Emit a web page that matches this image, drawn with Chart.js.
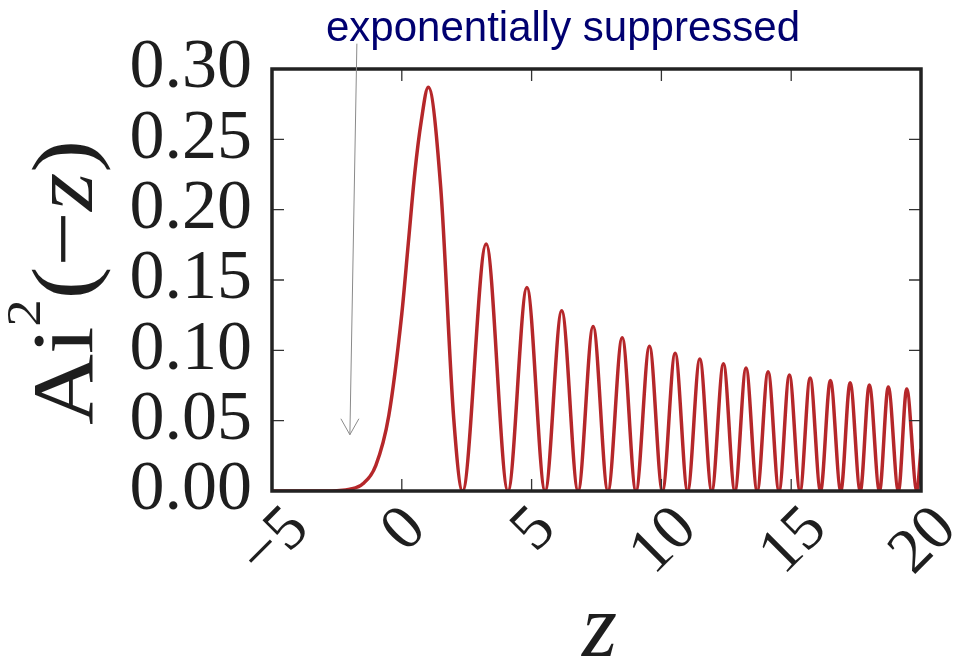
<!DOCTYPE html>
<html>
<head>
<meta charset="utf-8">
<script src="https://cdn.jsdelivr.net/npm/chart.js@4.4.1/dist/chart.umd.min.js"></script>
<style>
  html, body { margin: 0; padding: 0; background: #fff; }
  #wrap { width: 957px; height: 662px; }
</style>
</head>
<body>
<div id="wrap"><canvas id="chart"></canvas></div>
<script>
// values: z positions of tail points, peaks and zeros
const zValues = [-5, -4, -3, -2.5, -2, -1.5, -1, -0.5, 0, 0.25, 0.5, 0.75, 1.02, 1.5, 2.0,
  2.34, 3.25, 4.09, 4.82, 5.52, 6.16, 6.79, 7.37, 7.94, 8.49, 9.02, 9.54,
  10.04, 10.53, 11.01, 11.48, 11.94, 12.39, 12.83, 13.26, 13.69, 14.11, 14.53, 14.93,
  15.34, 15.73, 16.13, 16.51, 16.91, 17.27, 17.66, 18.01, 18.40, 18.74, 19.13, 19.45,
  19.84, 20]
const aiSquared = [0, 0, 0.00004, 0.00025, 0.0012, 0.0051, 0.0183, 0.0537, 0.126, 0.176, 0.226, 0.263, 0.287, 0.2155, 0.0517,
  0, 0.1756, 0, 0.1447, 0, 0.1281, 0, 0.1170, 0, 0.1090, 0, 0.1029,
  0, 0.0979, 0, 0.0938, 0, 0.0904, 0, 0.0874, 0, 0.0848, 0, 0.0825,
  0, 0.0804, 0, 0.0786, 0, 0.0769, 0, 0.0754, 0, 0.0739, 0, 0.0726,
  0, 0.03]
const xTicks = [-5, 0, 5, 10, 15, 20]
const yTicks = [0, 0.05, 0.10, 0.15, 0.20, 0.25, 0.30]
const noteText = 'exponentially suppressed'
const arrowTail = {x: -1.73, y: 0.318}
const arrowTip = {x: -2.0, y: 0.040}

const serif = '"Liberation Serif", "DejaVu Serif", serif'
const ink = '#1e1e1e'

const fmtX = v => (v < 0 ? '\u2212' + Math.abs(v) : String(v))

const decorations = {
  id: 'decorations',
  afterDraw(chart) {
    const {ctx, chartArea: a, scales: {x, y}} = chart
    ctx.save()

    // inward tick marks on all four sides
    ctx.strokeStyle = '#333'
    ctx.lineWidth = 1.3
    ctx.beginPath()
    xTicks.forEach(v => {
      const px = x.getPixelForValue(v)
      ctx.moveTo(px, a.bottom); ctx.lineTo(px, a.bottom - 12)
      ctx.moveTo(px, a.top); ctx.lineTo(px, a.top + 12)
    })
    yTicks.forEach(v => {
      const py = y.getPixelForValue(v)
      ctx.moveTo(a.left, py); ctx.lineTo(a.left + 12, py)
      ctx.moveTo(a.right, py); ctx.lineTo(a.right - 12, py)
    })
    ctx.stroke()

    // frame
    ctx.strokeStyle = '#222'
    ctx.lineWidth = 3.5
    ctx.strokeRect(a.left, a.top, a.right - a.left, a.bottom - a.top)

    // rotated x tick labels, centred on the tick
    ctx.fillStyle = ink
    const fx = 64
    ctx.font = fx + 'px ' + serif
    ctx.textAlign = 'center'
    ctx.textBaseline = 'alphabetic'
    const h = 0.66 * fx
    xTicks.forEach(v => {
      const label = fmtX(v)
      const w = ctx.measureText(label).width
      const cx = x.getPixelForValue(v)
      const cy = a.bottom + 10 + (w + h) / (2 * Math.SQRT2)
      ctx.save()
      ctx.translate(cx, cy)
      ctx.rotate(-Math.PI / 4)
      ctx.fillText(label, 0, h / 2)
      ctx.restore()
    })

    // x axis title
    ctx.font = 'italic 90px ' + serif
    ctx.fillText('z', (a.left + a.right) / 2 + 3, 656)

    // y axis title Ai²(−z), drawn in pieces
    const parts = [
      {t: 'Ai', f: '86px ' + serif, dy: 0},
      {t: '2', f: '48px ' + serif, dy: -52},
      {t: '(\u2212', f: '86px ' + serif, dy: 0},
      {t: 'z', f: 'italic 86px ' + serif, dy: 0},
      {t: ')', f: '86px ' + serif, dy: 0}
    ]
    let total = 0
    parts.forEach(p => { ctx.font = p.f; p.w = ctx.measureText(p.t).width; total += p.w })
    const span = 285
    ctx.save()
    ctx.translate(92, 425)
    ctx.rotate(-Math.PI / 2)
    ctx.scale(span / total, 1)
    ctx.textAlign = 'left'
    let pos = 0
    parts.forEach(p => {
      ctx.font = p.f
      ctx.fillText(p.t, pos, p.dy)
      pos += p.w
    })
    ctx.restore()

    // annotation arrow and text
    const tx = x.getPixelForValue(arrowTail.x), ty = y.getPixelForValue(arrowTail.y)
    const hx = x.getPixelForValue(arrowTip.x), hy = y.getPixelForValue(arrowTip.y)
    ctx.strokeStyle = '#8a8a8a'
    ctx.lineWidth = 1
    ctx.beginPath()
    ctx.moveTo(tx, ty); ctx.lineTo(hx, hy)
    ctx.moveTo(hx - 9, hy - 16); ctx.lineTo(hx, hy); ctx.lineTo(hx + 9, hy - 16)
    ctx.stroke()

    ctx.fillStyle = '#000070'
    ctx.font = '42px "Liberation Sans", Arial, sans-serif'
    ctx.textAlign = 'center'
    ctx.fillText(noteText, 563, 41)

    ctx.restore()
  }
}

new Chart(document.getElementById('chart'), {
  type: 'line',
  data: {
    datasets: [{
      data: zValues.map((z, i) => ({x: z, y: aiSquared[i]})),
      borderColor: '#b5272a',
      borderWidth: 3.5,
      pointRadius: 0,
      cubicInterpolationMode: 'monotone',
      fill: false
    }]
  },
  options: {
    responsive: true,
    maintainAspectRatio: false,
    animation: false,
    devicePixelRatio: 1,
    layout: {padding: {left: 0, top: 69, right: 36, bottom: 0}},
    plugins: {legend: {display: false}, tooltip: {enabled: false}},
    scales: {
      x: {
        type: 'linear',
        min: -5, max: 20,
        grid: {display: false},
        border: {display: false},
        ticks: {display: false},
        afterBuildTicks: s => { s.ticks = xTicks.map(v => ({value: v})) },
        afterFit: s => { s.height = 171 }
      },
      y: {
        min: 0, max: 0.3,
        grid: {display: false},
        border: {display: false},
        afterBuildTicks: s => { s.ticks = yTicks.map(v => ({value: v})) },
        afterFit: s => { s.width = 272 },
        ticks: {
          autoSkip: false,
          padding: 12,
          color: ink,
          font: {family: serif, size: 70},
          callback: v => v.toFixed(2)
        }
      }
    }
  },
  plugins: [decorations]
})
</script>
</body>
</html>
